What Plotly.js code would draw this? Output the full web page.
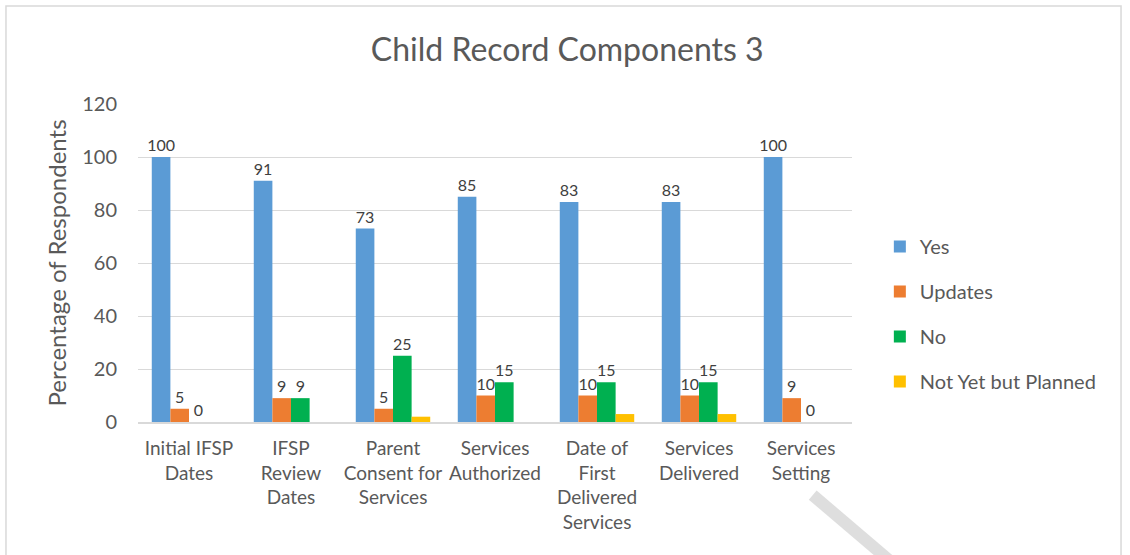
<!DOCTYPE html>
<html>
<head>
<meta charset="utf-8">
<script src="https://cdn.plot.ly/plotly-3.0.1.min.js"></script>
<style>
  html, body { margin: 0; padding: 0; background: #fff; }
  #chart { width: 1130px; height: 555px; }
</style>
</head>
<body>
<div id="chart"></div>
<script>
// Categories and series values
const categories = [
  'Initial IFSP<br>Dates',
  'IFSP<br>Review<br>Dates',
  'Parent<br>Consent for<br>Services',
  'Services<br>Authorized',
  'Date of<br>First<br>Delivered<br>Services',
  'Services<br>Delivered',
  'Services<br>Setting'
];
const yesVals     = [100, 91, 73, 85, 83, 83, 100];
const updatesVals = [5, 9, 5, 10, 10, 10, 9];
const noVals      = [0, 9, 25, 15, 15, 15, 0];
const plannedVals = [0, 0, 2, 0, 3, 3, 0];

const seriesNames  = ['Yes', 'Updates', 'No', 'Not Yet but Planned'];
const seriesColors = ['#5b9bd5', '#ed7d31', '#00b050', '#ffc000'];

const chartDiv = document.getElementById('chart');
const fontFam = 'Lato, "Open Sans", sans-serif';

// one bar trace per series; the yellow series has no value labels
function makeBar(vals, i, showLabels) {
  return {
    x: categories,
    y: vals,
    type: 'bar',
    name: seriesNames[i],
    legendgroup: 'g' + i,
    marker: { color: seriesColors[i] },
    text: showLabels ? vals.map(String) : vals.map(() => ''),
    textposition: 'outside',
    constraintext: 'none',
    cliponaxis: false,
    textfont: { family: fontFam, size: 16, color: '#404040' },
    hoverinfo: 'name+y'
  };
}

const traces = [
  makeBar(yesVals, 0, true),
  makeBar(updatesVals, 1, true),
  makeBar(noVals, 2, true),
  makeBar(plannedVals, 3, false)
];

const layout = {
  width: 1130,
  height: 555,
  margin: { l: 138, r: 278, t: 104, b: 133 },
  paper_bgcolor: '#fff',
  plot_bgcolor: '#fff',
  font: { family: fontFam, color: '#595959' },
  title: {
    text: 'Child Record Components 3',
    font: { size: 32, color: '#595959', family: fontFam },
    x: 0.502, xref: 'container', xanchor: 'center',
    y: 0.91, yanchor: 'middle'
  },
  barmode: 'group',
  bargap: 0.27,
  bargroupgap: 0,
  xaxis: {
    tickfont: { size: 19, color: '#595959' },
    showline: true,
    linecolor: '#d9d9d9',
    linewidth: 2,
    ticks: '',
    ticklabelstandoff: 8,
    showgrid: false
  },
  yaxis: {
    range: [0, 120],
    dtick: 20,
    tickfont: { size: 20, color: '#595959' },
    gridcolor: '#d9d9d9',
    gridwidth: 1,
    zeroline: false,
    showline: false,
    ticks: '',
    ticklabelstandoff: 20,
    title: {
      text: 'Percentage of Respondents',
      font: { size: 24, color: '#595959' },
      standoff: 8
    }
  },
  legend: {
    x: 1.039,
    y: 0.613,
    xanchor: 'left',
    yanchor: 'top',
    traceorder: 'grouped',
    tracegroupgap: 16,
    font: { size: 20, color: '#595959' },
    itemwidth: 30
  },
  shapes: [
    {
      type: 'rect', xref: 'paper', yref: 'paper',
      x0: -0.1849, x1: 1.3768, y0: -0.45, y1: 1.308,
      line: { color: '#d9d9d9', width: 1.5 }
    },
    {
      type: 'line', xref: 'paper', yref: 'paper',
      x0: 0.945, y0: -0.23, x1: 1.06, y1: -0.45,
      line: { color: '#dedede', width: 12 }
    }
  ]
};

Plotly.newPlot(chartDiv, traces, layout, { displayModeBar: false, staticPlot: true });
</script>
</body>
</html>
